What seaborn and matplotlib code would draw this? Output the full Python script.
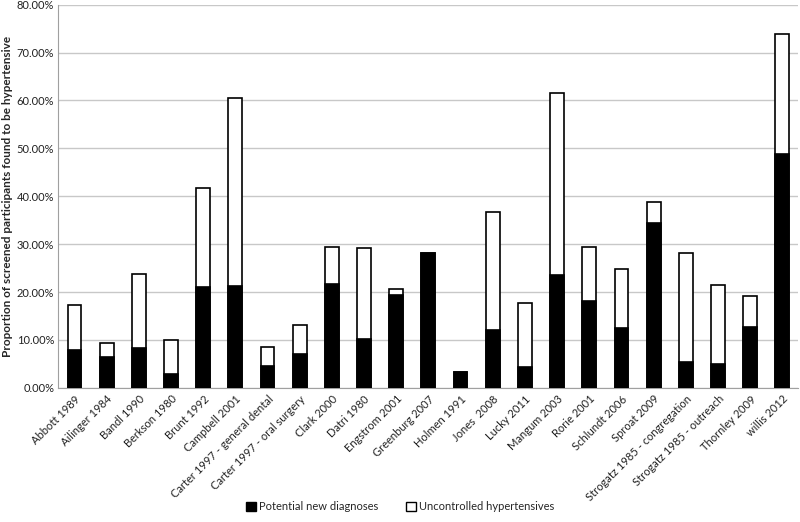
import matplotlib
matplotlib.use("Agg")
import matplotlib.pyplot as plt
import matplotlib.ticker as mticker
from matplotlib.patches import Patch
import pandas as pd
import seaborn as sns

# Studies and proportions (in %)
studies = ["Abbott 1989", "Ailinger 1984", "Bandl 1990", "Berkson 1980", "Brunt 1992",
           "Campbell 2001", "Carter 1997 - general dental", "Carter 1997 - oral surgery",
           "Clark 2000", "Datri 1980", "Engstrom 2001", "Greenburg 2007", "Holmen 1991",
           "Jones  2008", "Lucky 2011", "Mangum 2003", "Rorie 2001", "Schlundt 2006",
           "Sproat 2009", "Strogatz 1985 - congregation", "Strogatz 1985 - outreach",
           "Thornley 2009", "willis 2012"]
new_diagnoses = [8.0, 6.5, 8.4, 2.9, 21.0, 21.3, 4.6, 7.1, 21.7, 10.1, 19.4, 28.1, 3.3,
                 12.0, 4.4, 23.5, 18.1, 12.5, 34.4, 5.3, 4.9, 12.8, 48.8]
uncontrolled = [9.4, 2.9, 15.4, 7.0, 20.7, 39.3, 4.0, 6.0, 7.7, 19.1, 1.2, 0.0, 0.0,
                24.8, 13.4, 38.0, 11.3, 12.4, 4.3, 22.8, 16.5, 6.4, 25.0]

df = pd.DataFrame({"study": studies,
                   "new": [v / 100 for v in new_diagnoses],
                   "unc": [v / 100 for v in uncontrolled]})
df["total"] = df["new"] + df["unc"]

sns.set_style("white")
plt.rcParams["font.family"] = ["Lato", "DejaVu Sans"]

fig, ax = plt.subplots(figsize=(8, 5.22), dpi=100)
fig.subplots_adjust(left=0.073, right=0.998, top=0.991, bottom=0.257)

# white (uncontrolled) stacked on top: draw totals first, then black part over it
sns.barplot(data=df, x="study", y="total", color="white", edgecolor="black",
            linewidth=1.2, width=0.43, saturation=1, ax=ax, zorder=2)
sns.barplot(data=df, x="study", y="new", color="black", edgecolor="black",
            linewidth=1.2, width=0.43, saturation=1, ax=ax, zorder=3)

ax.set_ylim(0, 0.8)
ax.set_yticks([i / 10 for i in range(9)])
ax.yaxis.set_major_formatter(mticker.FuncFormatter(lambda v, p: f"{v * 100:.2f}%"))
ax.yaxis.grid(True, color="#c8c8c8", linewidth=1)
ax.set_axisbelow(True)
ax.set_xlim(-0.5, len(studies) - 0.5)

for s in ["top", "right"]:
    ax.spines[s].set_visible(False)
ax.spines["left"].set_color("#a0a0a0")
ax.spines["bottom"].set_color("#a0a0a0")

ax.set_xlabel("")
ax.set_ylabel("Proportion of screened participants found to be hypertensive",
              fontsize=8.5, fontweight="bold", labelpad=3)
ax.tick_params(axis="y", labelsize=8, length=0, pad=3)
ax.tick_params(axis="x", labelsize=8, length=0, pad=4)
plt.setp(ax.get_xticklabels(), rotation=45, ha="right", rotation_mode="anchor",
         color="#222222")
plt.setp(ax.get_yticklabels(), color="#222222")

handles = [Patch(facecolor="black", edgecolor="black", label="Potential new diagnoses"),
           Patch(facecolor="white", edgecolor="black", label="Uncontrolled hypertensives")]
fig.legend(handles=handles, loc="lower center", bbox_to_anchor=(0.5, 0.0), ncol=2,
           frameon=False, fontsize=8, handlelength=0.9, handleheight=0.9,
           columnspacing=2.5, handletextpad=0.3)

fig.savefig("out.png", dpi=100)
